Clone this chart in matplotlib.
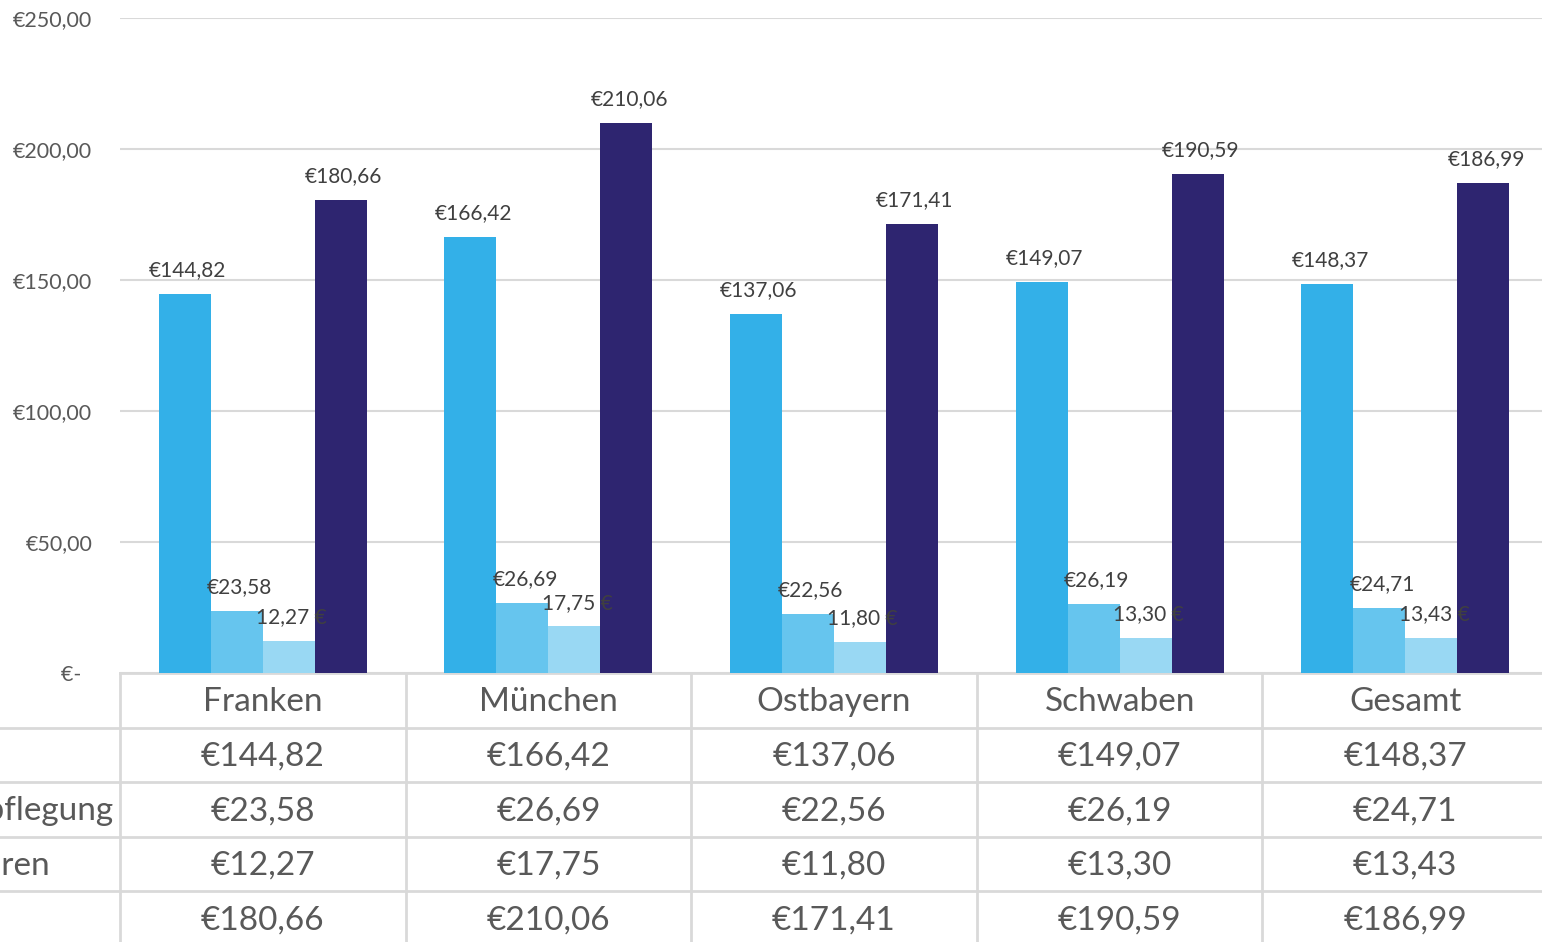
import numpy as np
import matplotlib.pyplot as plt
from matplotlib import transforms

plt.rcParams['font.family'] = ['Lato', 'DejaVu Sans']

regions = ['Franken', 'München', 'Ostbayern', 'Schwaben', 'Gesamt']
row_labels = ['Übernachtung', 'Kosten für Verpflegung', 'Sonstige Gebühren', 'Gesamt']
uebernachtung = [144.82, 166.42, 137.06, 149.07, 148.37]
verpflegung = [23.58, 26.69, 22.56, 26.19, 24.71]
nebenkosten = [12.27, 17.75, 11.80, 13.30, 13.43]
gesamt = [180.66, 210.06, 171.41, 190.59, 186.99]

series = [uebernachtung, verpflegung, nebenkosten, gesamt]
colors = ['#33B0E8', '#66C5EE', '#99D8F3', '#2E2570']
grey = '#595959'
line = '#D9D9D9'


def euro(v):
    return '€' + f'{v:.2f}'.replace('.', ',')


fig = plt.figure(figsize=(15.42, 9.42), dpi=100)
W, H = 1542, 942
ax = fig.add_axes([120 / W, 269 / H, 1428 / W, 655 / H])

x = np.arange(len(regions))
w = 0.182
for i, (vals, c) in enumerate(zip(series, colors)):
    pos = x + (i - 1.5) * w
    ax.bar(pos, vals, w, color=c, zorder=3)
    for p, v in zip(pos, vals):
        if i == 2:
            lab = f'{v:.2f}'.replace('.', ',') + ' €'
        else:
            lab = euro(v)
        ax.annotate(lab, (p, v), xytext=(2, 10), textcoords='offset points',
                    ha='center', va='bottom', fontsize=15, color='#404040', zorder=4)

ax.set_xlim(-0.5, 4.5)
ax.set_ylim(0, 250)
ticks = [0, 50, 100, 150, 200, 250]
ax.set_yticks(ticks)
ax.set_yticklabels(['€-  '] + [euro(t) for t in ticks[1:]])
ax.tick_params(axis='y', length=0, pad=20, labelsize=15.5, labelcolor=grey)
ax.set_xticks([])
ax.grid(axis='y', color=line, lw=1.5, zorder=0)
for s in ['top', 'right', 'left']:
    ax.spines[s].set_visible(False)
ax.spines['bottom'].set_color(line)
ax.spines['bottom'].set_linewidth(2)

# data table below the plot
tr = transforms.blended_transform_factory(ax.transData, fig.transFigure)
row_h = 54.5
top = 673
rows = [regions] + [[euro(v) for v in s] for s in series]
for r in range(5):
    yc = 1 - (top + (r + 0.5) * row_h + 2) / H
    for j, txt in enumerate(rows[r]):
        fig.text(j, yc, txt, transform=tr, ha='center', va='center',
                 fontsize=24, color=grey)
    if r > 0:
        yl = 1 - (top + r * row_h) / H
        fig.add_artist(plt.Line2D([0, 1], [yl, yl], transform=fig.transFigure,
                                  color=line, lw=2))
for b in np.arange(-0.5, 5, 1):
    fig.add_artist(plt.Line2D([b, b], [0, 1 - top / H], transform=tr,
                              color=line, lw=2))

# row headers, left aligned, mostly cut off by the figure edge
fig.canvas.draw()
r = fig.canvas.get_renderer()
probe = fig.text(0, 0, row_labels[1], fontsize=24)
wpx = probe.get_window_extent(r).width
probe.remove()
x0 = (113 - wpx) / W
for k, lab in enumerate(row_labels):
    yc = 1 - (top + (k + 1.5) * row_h + 2) / H
    fig.text(x0, yc, lab, ha='left', va='center', fontsize=24, color=grey)

fig.savefig('out.png', dpi=100)
